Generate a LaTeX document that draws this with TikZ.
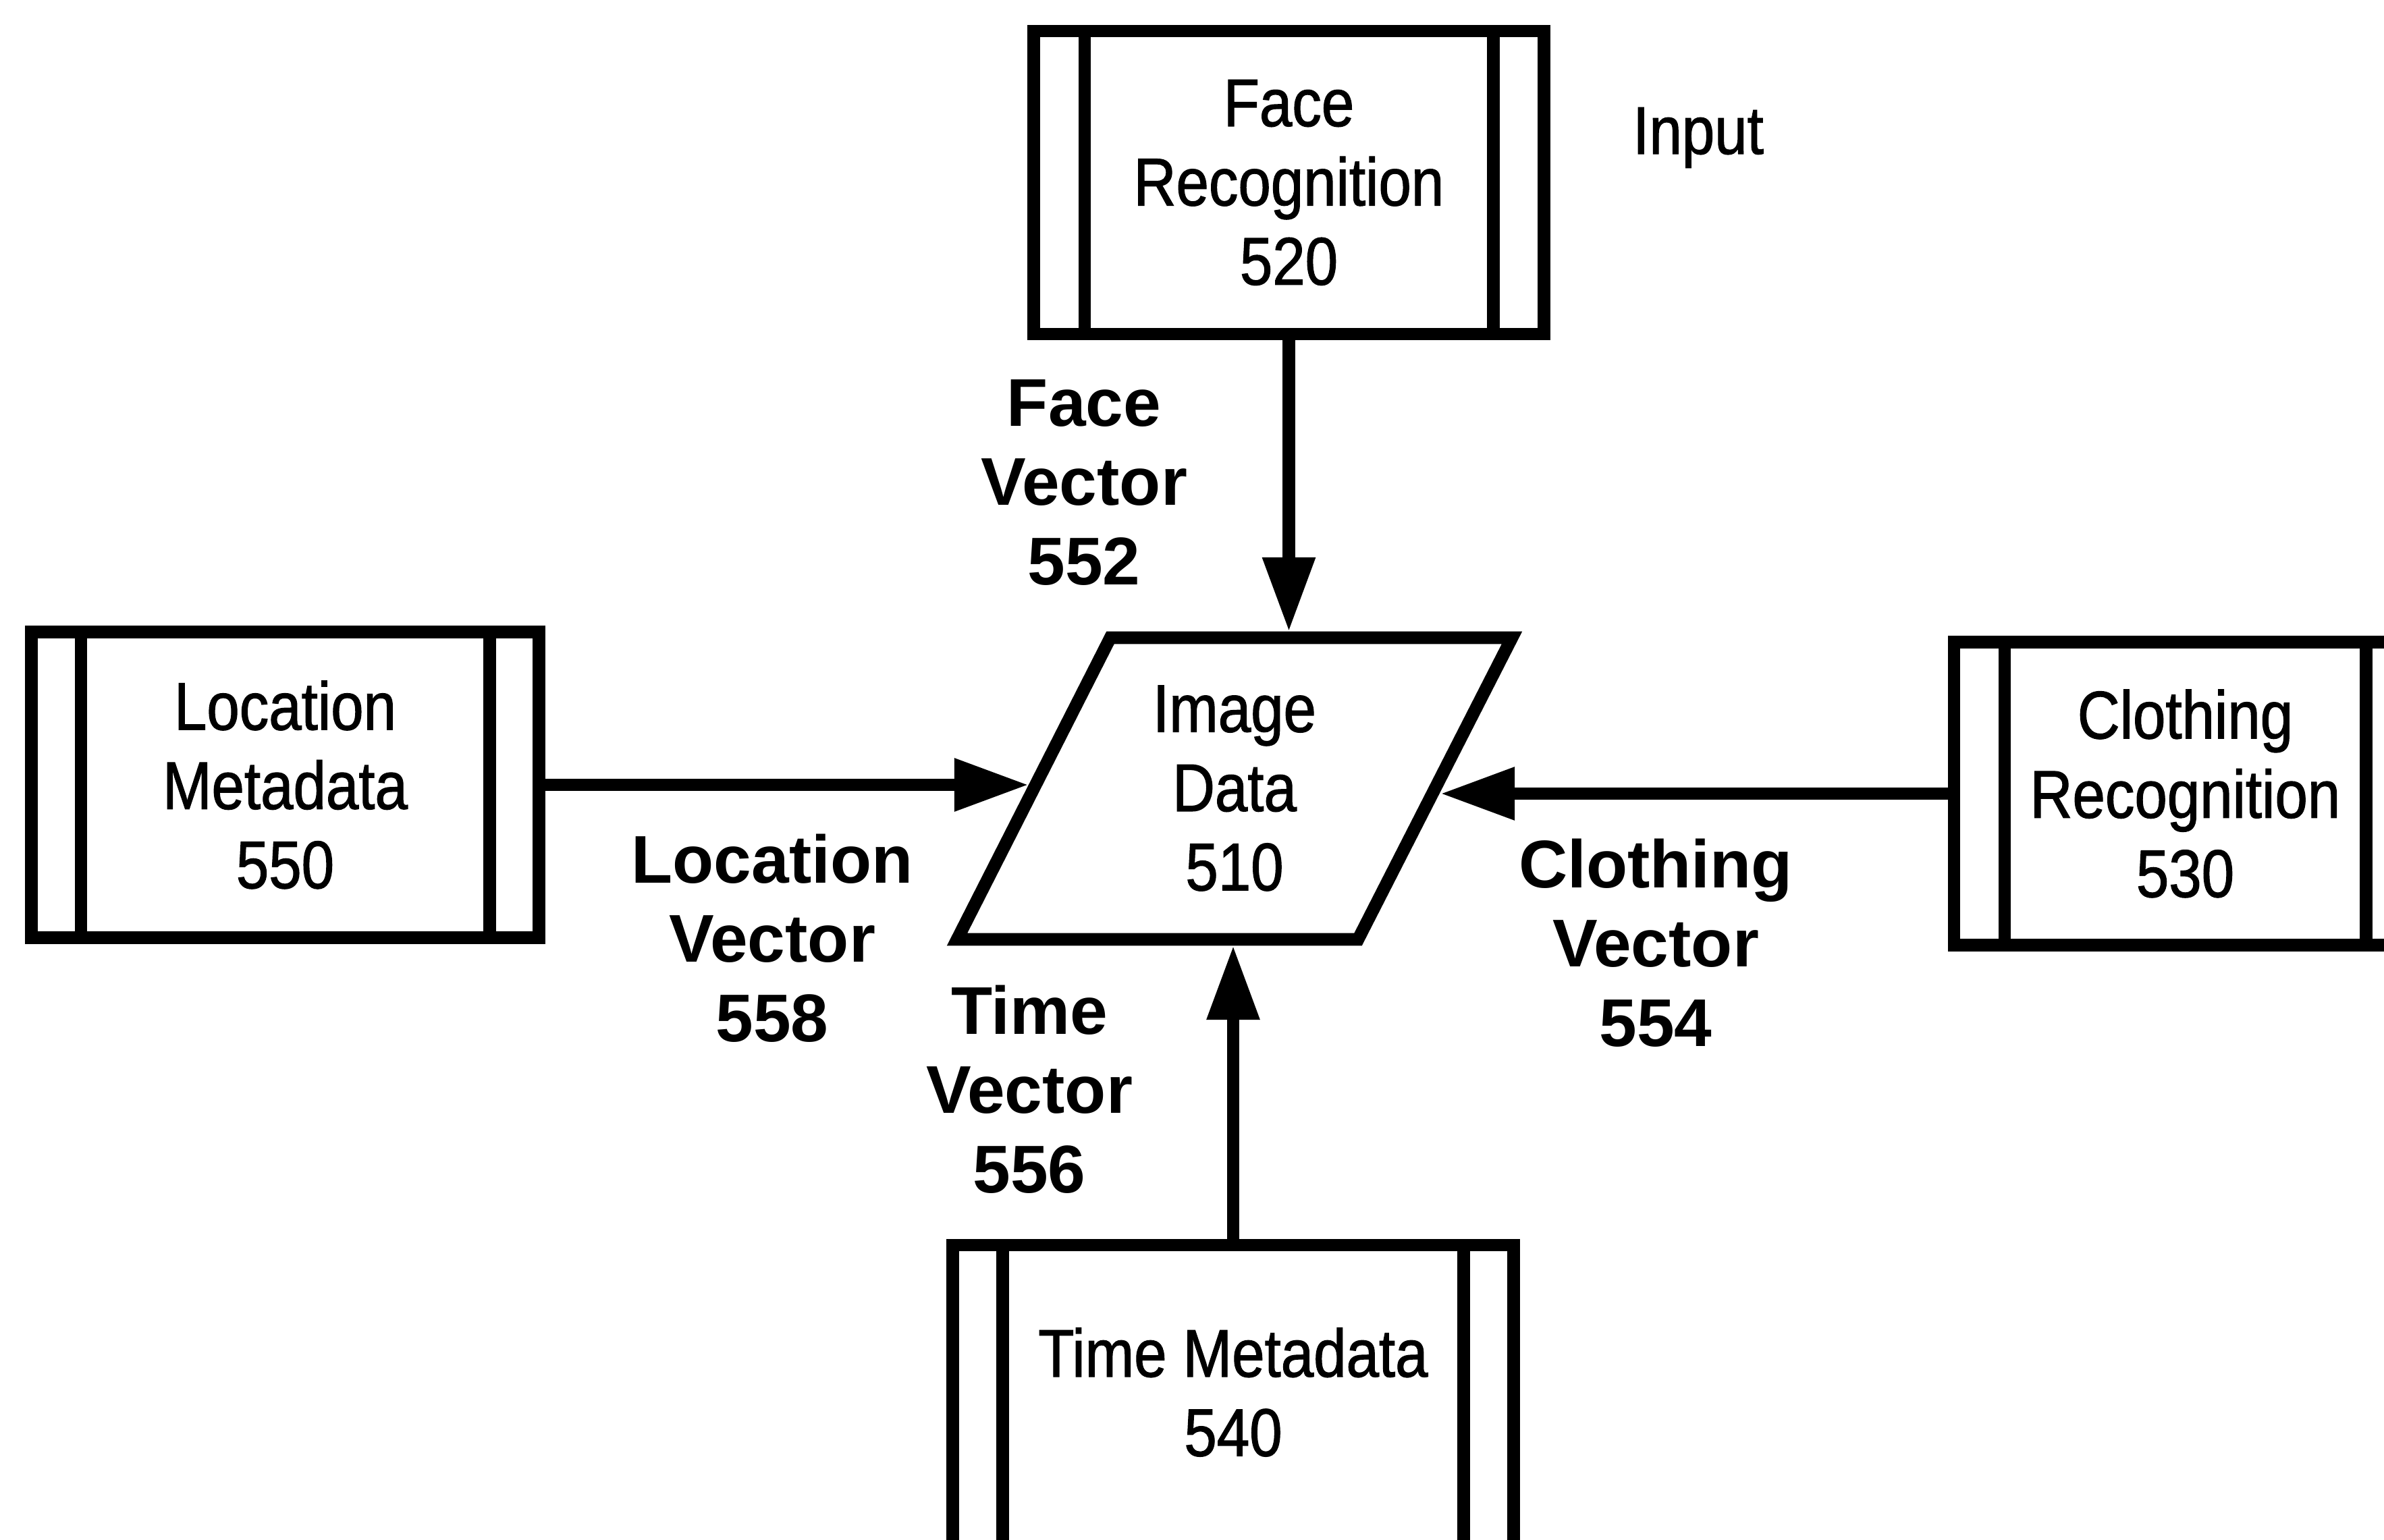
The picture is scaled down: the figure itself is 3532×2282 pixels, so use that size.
\documentclass[tikz,border=0pt]{standalone}
\usepackage{fontspec}
\setmainfont{Liberation Sans}
\newfontfamily\narrowfont[FakeStretch=0.87,FakeBold=1.2]{Liberation Sans}
\usetikzlibrary{arrows.meta}
\begin{document}
\begin{tikzpicture}[x=0.01cm,y=-0.01cm]
\tikzset{
  procbox/.style={draw, line width=5.3pt, rectangle, outer sep=0pt, inner sep=0pt, align=center,
    font=\narrowfont\fontsize{28.45}{33.4}\selectfont},
  sidebar/.style={line width=5.3pt},
  plaintext/.style={align=center, inner sep=0pt, font=\narrowfont\fontsize{28.45}{33.4}\selectfont},
  vlabel/.style={align=center, inner sep=0pt, font=\bfseries\fontsize{28.45}{33.4}\selectfont},
  flow/.style={line width=5.3pt, -{Triangle[length=1.1cm,width=0.74cm]}},
  para/.style={line width=5.3pt, line join=miter}
}
\fill[white] (0,0) rectangle (3532,2282);
\clip (0,0) rectangle (3532,2282);

% boxes
\node[procbox, minimum width=7.55cm, minimum height=4.49cm] (face) at (1909.5,270.5) {Face\\Recognition\\520};
\node[procbox, minimum width=7.51cm, minimum height=4.53cm] (loc) at (422.5,1163) {Location\\Metadata\\550};
\node[procbox, minimum width=6.85cm, minimum height=4.49cm] (cloth) at (3237.5,1176) {Clothing\\Recognition\\530};
\node[procbox, minimum width=8.31cm, minimum height=4.6cm,
      label={[plaintext, yshift=0.12cm]center:Time Metadata\\540}] (time) at (1827,2075) {};

% side bars
\foreach \b/\d in {face/0.75cm, loc/0.73cm, cloth/0.75cm, time/0.74cm}{
  \draw[sidebar] ([xshift=\d]\b.north west) -- ([xshift=\d]\b.south west);
  \draw[sidebar] ([xshift=-\d]\b.north east) -- ([xshift=-\d]\b.south east);
}

% image data parallelogram
\draw[para] (1645,945) -- (2240,945) -- (2012,1392) -- (1418,1392) -- cycle;
\node[plaintext] (img) at (1829,1168) {Image\\Data\\510};
\coordinate (imgtop) at (1909.5,936);
\coordinate (imgleft) at (1524,1163);
\coordinate (imgright) at (2134,1176);
\coordinate (imgbot) at (1827,1401);

% connectors
\draw[flow] (face.south) -- (imgtop);
\draw[flow] (loc.east) -- (imgleft);
\draw[flow] (cloth.west) -- (imgright);
\draw[flow] (time.north) -- (imgbot);

% labels
\node[plaintext] (input) at (2516,204) {Input};
\node[vlabel] (facev) at (1606,715) {Face\\Vector\\552};
\node[vlabel] (locv) at (1144,1390) {Location\\Vector\\558};
\node[vlabel] (timev) at (1525,1614) {Time\\Vector\\556};
\node[vlabel] (clothv) at (2453,1397) {Clothing\\Vector\\554};
\end{tikzpicture}
\end{document}
